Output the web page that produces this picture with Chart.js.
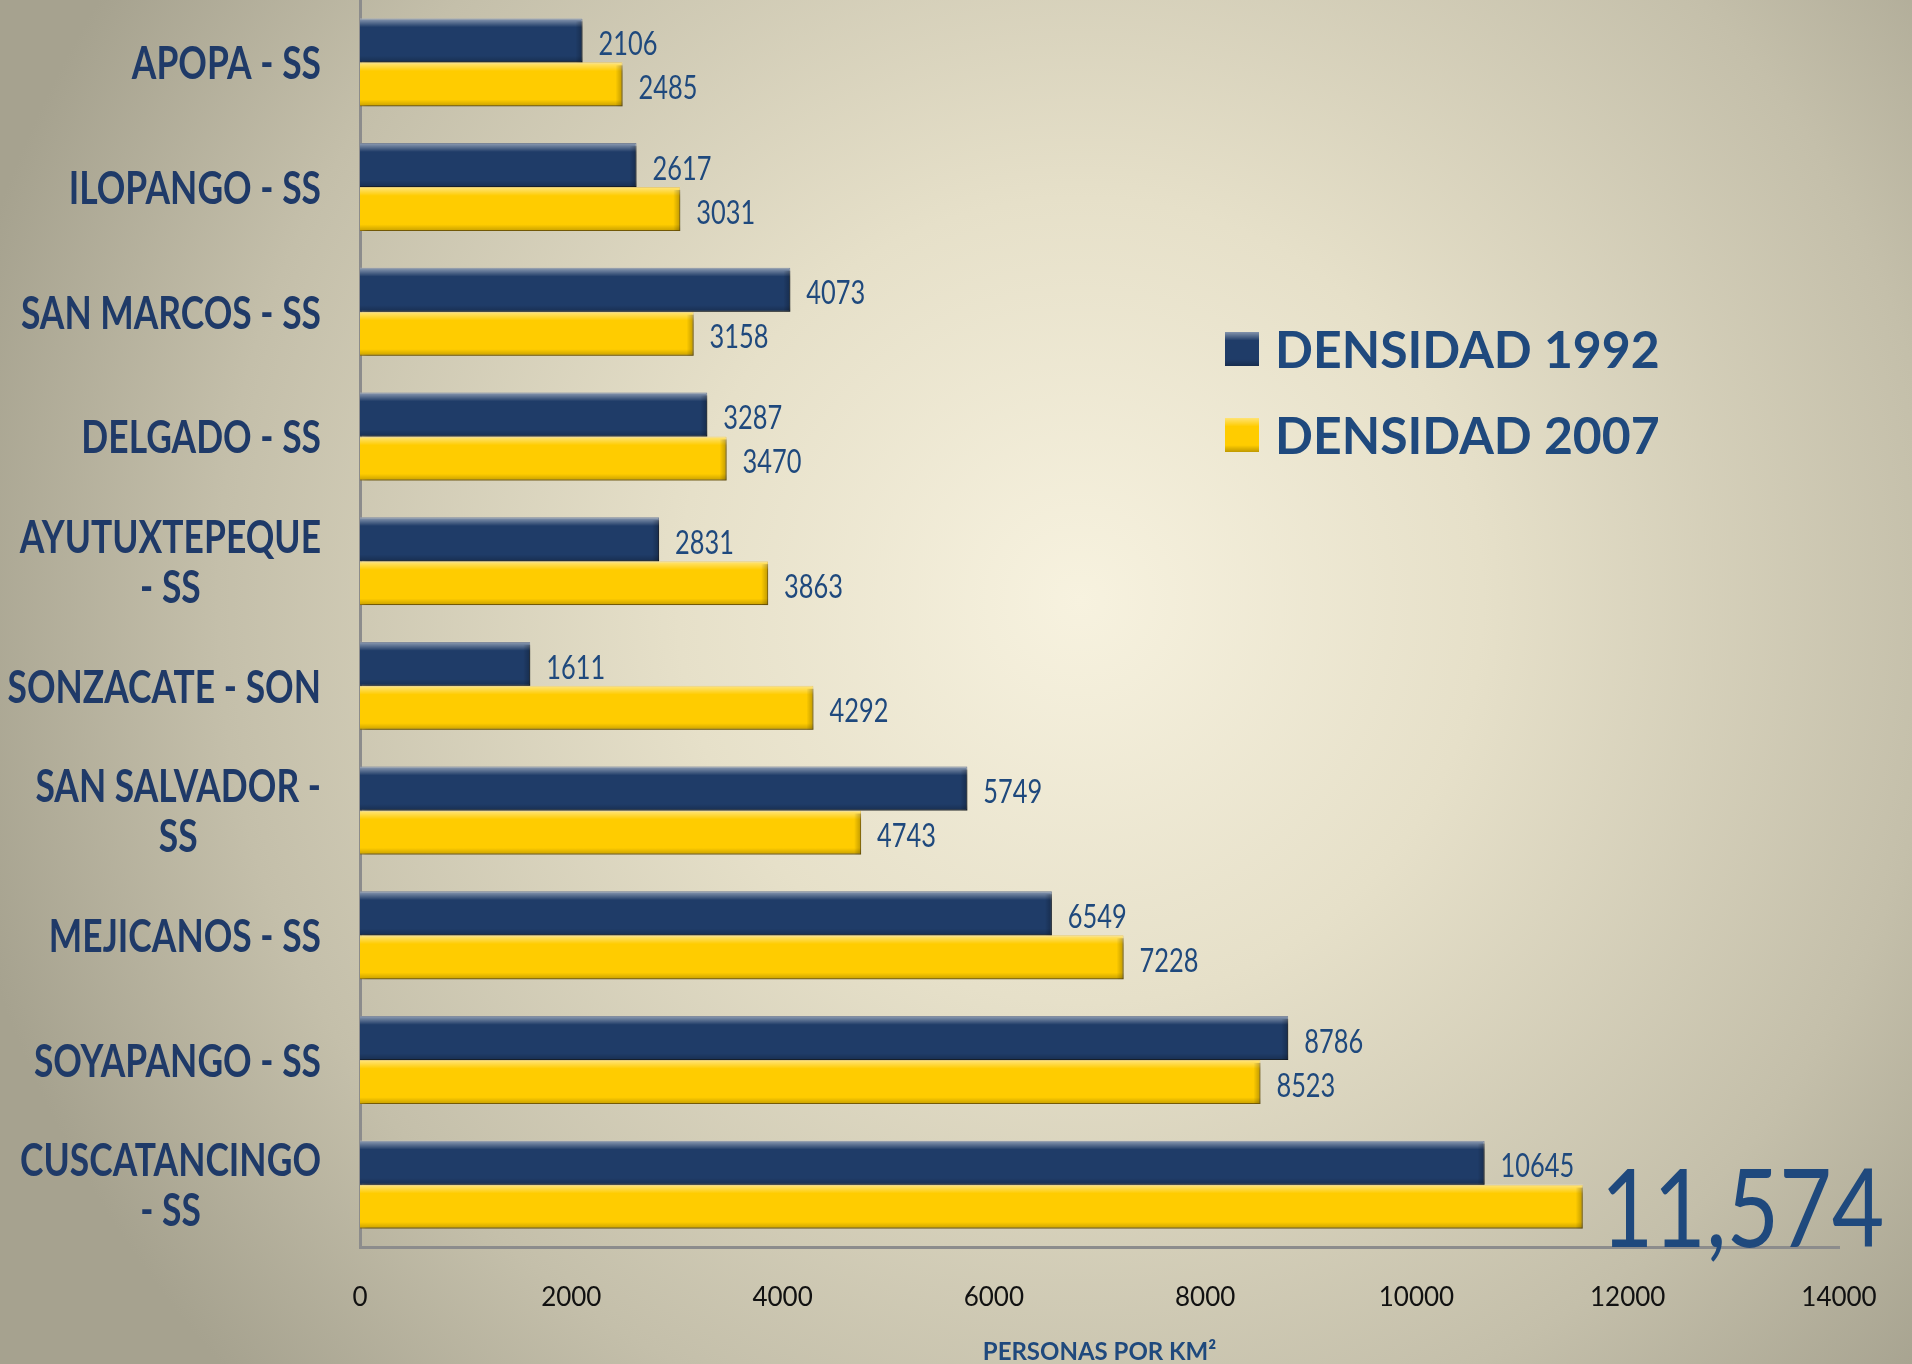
<!DOCTYPE html>
<html>
<head>
<meta charset="utf-8">
<script src="https://cdn.jsdelivr.net/npm/chart.js@4.4.1/dist/chart.umd.min.js"></script>
<style>
  html, body { margin: 0; padding: 0; background: #b8b4a2; }
  canvas { display: block; }
</style>
</head>
<body>
<canvas id="densidad" width="1912" height="1364"></canvas>
<script>
// municipios (wrapped ones as arrays of lines)
const categories = [
    'APOPA - SS',
    'ILOPANGO - SS',
    'SAN MARCOS - SS',
    'DELGADO - SS',
    ['AYUTUXTEPEQUE', '- SS'],
    'SONZACATE - SON',
    ['SAN SALVADOR -', 'SS'],
    'MEJICANOS - SS',
    'SOYAPANGO - SS',
    ['CUSCATANCINGO', '- SS']
];
const densidad1992 = [2106, 2617, 4073, 3287, 2831, 1611, 5749, 6549, 8786, 10645];
const densidad2007 = [2485, 3031, 3158, 3470, 3863, 4292, 4743, 7228, 8523, 11574];
const seriesNames = ['DENSIDAD 1992', 'DENSIDAD 2007'];
const xTicks = [0, 2000, 4000, 6000, 8000, 10000, 12000, 14000];
const axisTitle = 'PERSONAS POR KM²';

const FONT = "Lato, 'Open Sans', sans-serif";
const BLUE = '#1F3C68';
const YELLOW = '#FFCC00';
const TEXT_BLUE = '#1F497D';

// the original slide text is horizontally squeezed, so draw it scaled
function squeezed(ctx, text, x, y, sx) {
    ctx.save();
    ctx.translate(x, y);
    ctx.scale(sx, 1);
    ctx.fillText(text, 0, 0);
    ctx.restore();
}

// background gradient
const background = {
    id: 'background',
    beforeDraw(chart) {
        const { ctx, width, height } = chart;
        ctx.save();
        const g = ctx.createRadialGradient(1080, 600, 0, 1080, 600, 1150);
        g.addColorStop(0, '#F7F2DF');
        g.addColorStop(0.35, '#E6E0C9');
        g.addColorStop(0.75, '#C4BFAA');
        g.addColorStop(1, '#A6A28F');
        ctx.fillStyle = g;
        ctx.fillRect(0, 0, width, height);
        ctx.restore();
    }
};

// shadow under bars + bevel on top
const bevel = {
    id: 'bevel',
    beforeDatasetDraw(chart) {
        const ctx = chart.ctx;
        ctx.save();
        ctx.shadowColor = 'rgba(40, 35, 20, 0.45)';
        ctx.shadowBlur = 7;
        ctx.shadowOffsetX = 2;
        ctx.shadowOffsetY = 6;
    },
    afterDatasetDraw(chart, args) {
        const ctx = chart.ctx;
        ctx.restore();
        const meta = chart.getDatasetMeta(args.index);
        meta.data.forEach(bar => {
            const left = Math.min(bar.base, bar.x);
            const right = Math.max(bar.base, bar.x);
            const top = bar.y - bar.height / 2;
            const h = bar.height;
            ctx.save();
            const g = ctx.createLinearGradient(0, top, 0, top + h);
            g.addColorStop(0, 'rgba(255,255,255,0.5)');
            g.addColorStop(0.12, 'rgba(255,255,255,0.2)');
            g.addColorStop(0.2, 'rgba(255,255,255,0)');
            g.addColorStop(0.85, 'rgba(0,0,0,0)');
            g.addColorStop(1, 'rgba(0,0,0,0.22)');
            ctx.fillStyle = g;
            ctx.fillRect(left, top, right - left, h);
            // right end bevel
            const g2 = ctx.createLinearGradient(right - 7, 0, right, 0);
            g2.addColorStop(0, 'rgba(0,0,0,0)');
            g2.addColorStop(1, 'rgba(0,0,0,0.25)');
            ctx.fillStyle = g2;
            ctx.fillRect(right - 7, top + 3, 7, h - 3);
            ctx.restore();
        });
    }
};

// value labels at bar ends, largest one big
const valueLabels = {
    id: 'valueLabels',
    afterDatasetsDraw(chart) {
        const { ctx } = chart;
        const all = chart.data.datasets.flatMap(d => d.data);
        const biggest = Math.max(...all);
        ctx.save();
        ctx.fillStyle = TEXT_BLUE;
        ctx.textBaseline = 'middle';
        ctx.textAlign = 'left';
        chart.data.datasets.forEach((ds, i) => {
            chart.getDatasetMeta(i).data.forEach((bar, j) => {
                const v = ds.data[j];
                if (v === biggest) {
                    ctx.font = '108px ' + FONT;
                    squeezed(ctx, v.toLocaleString('en-US'), bar.x + 18, bar.y + 6, 0.84);
                } else {
                    ctx.font = '33px ' + FONT;
                    squeezed(ctx, String(v), bar.x + 16, bar.y + 4, 0.77);
                }
            });
        });
        ctx.restore();
    }
};

// category labels: block right-aligned, lines centred inside block
const categoryLabels = {
    id: 'categoryLabels',
    afterDraw(chart) {
        const { ctx } = chart;
        const yScale = chart.scales.y;
        const right = 321;
        const lineH = 50;
        const sx = 0.77;
        ctx.save();
        ctx.font = 'bold 46px ' + FONT;
        ctx.fillStyle = '#1F3A68';
        ctx.textAlign = 'center';
        ctx.textBaseline = 'middle';
        categories.forEach((cat, i) => {
            const lines = Array.isArray(cat) ? cat : [cat];
            const w = Math.max(...lines.map(l => ctx.measureText(l).width)) * sx;
            const cx = right - w / 2;
            const cy = yScale.getPixelForValue(i);
            lines.forEach((l, k) => {
                squeezed(ctx, l, cx, cy + (k - (lines.length - 1) / 2) * lineH + 2, sx);
            });
        });
        ctx.restore();
    }
};

// legend inside the plot
const sideLegend = {
    id: 'sideLegend',
    afterDraw(chart) {
        const { ctx } = chart;
        ctx.save();
        chart.data.datasets.forEach((ds, i) => {
            const y = 349 + i * 86;
            const x = 1225, s = 34;
            ctx.fillStyle = ds.backgroundColor;
            ctx.fillRect(x, y - s / 2, s, s);
            const g = ctx.createLinearGradient(0, y - s / 2, 0, y + s / 2);
            g.addColorStop(0, 'rgba(255,255,255,0.45)');
            g.addColorStop(0.25, 'rgba(255,255,255,0)');
            g.addColorStop(0.8, 'rgba(0,0,0,0)');
            g.addColorStop(1, 'rgba(0,0,0,0.25)');
            ctx.fillStyle = g;
            ctx.fillRect(x, y - s / 2, s, s);
            ctx.font = 'bold 52px ' + FONT;
            ctx.fillStyle = TEXT_BLUE;
            ctx.textBaseline = 'middle';
            ctx.textAlign = 'left';
            squeezed(ctx, ds.label, 1275, y + 2, 0.96);
        });
        ctx.restore();
    }
};

const ctx = document.getElementById('densidad');
const myChart = new Chart(ctx, {
    type: 'bar',
    data: {
        labels: categories,
        datasets: [{
            label: seriesNames[0],
            data: densidad1992,
            backgroundColor: BLUE,
            borderColor: '#16294A',
            borderWidth: 1,
            categoryPercentage: 0.705,
            barPercentage: 1.0
        }, {
            label: seriesNames[1],
            data: densidad2007,
            backgroundColor: YELLOW,
            borderColor: '#D9A600',
            borderWidth: 1,
            categoryPercentage: 0.705,
            barPercentage: 1.0
        }]
    },
    options: {
        indexAxis: 'y',
        responsive: false,
        animation: false,
        layout: { padding: { left: 0, right: 73, top: 0, bottom: 0 } },
        plugins: {
            legend: { display: false },
            tooltip: { enabled: false }
        },
        scales: {
            x: {
                min: xTicks[0],
                max: xTicks[xTicks.length - 1],
                afterBuildTicks(scale) {
                    scale.ticks = xTicks.map(v => ({ value: v }));
                },
                afterFit(scale) { scale.height = 117; },
                grid: { display: false },
                border: { display: true, color: '#8C8C8C', width: 3 },
                ticks: {
                    padding: 27,
                    color: '#111111',
                    font: { family: FONT, size: 26 },
                    callback: v => String(v)
                },
                title: {
                    display: true,
                    text: axisTitle,
                    color: TEXT_BLUE,
                    font: { family: FONT, size: 24, weight: 'bold', lineHeight: 1.0 },
                    padding: { top: 0, bottom: 0 }
                }
            },
            y: {
                afterFit(scale) { scale.width = 360; },
                grid: { display: false },
                border: { display: true, color: '#8C8C8C', width: 3 },
                ticks: { display: false }
            }
        }
    },
    plugins: [background, bevel, valueLabels, categoryLabels, sideLegend]
});
</script>
</body>
</html>
